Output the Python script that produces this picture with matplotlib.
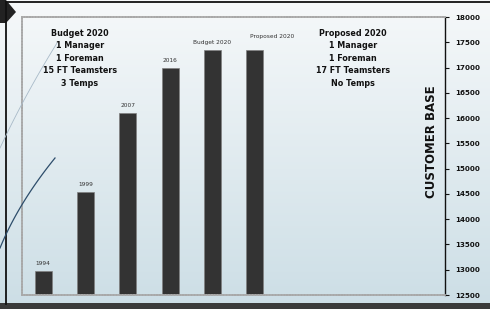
import numpy as np
import matplotlib.pyplot as plt
from matplotlib.lines import Line2D
from matplotlib.patches import Polygon, Rectangle

# data
years = ['1994', '1999', '2007', '2016', 'Budget 2020', 'Proposed 2020']
customers = [12980, 14540, 16100, 17000, 17350, 17350]
y_ticks = np.arange(12500, 18001, 500)

budget_lines = ['Budget 2020', '1 Manager', '1 Foreman', '15 FT Teamsters', '3 Temps']
proposed_lines = ['Proposed 2020', '1 Manager', '1 Foreman', '17 FT Teamsters', 'No Temps']

plt.rcParams['font.family'] = ['DejaVu Sans']

W, H = 490, 309
fig = plt.figure(figsize=(W / 100, H / 100), dpi=100)

# slide background gradient
bg = fig.add_axes([0, 0, 1, 1], zorder=-10)
grad = np.linspace(0, 1, 256)[:, None]
top_c = np.array([0.965, 0.975, 0.98])
bot_c = np.array([0.80, 0.87, 0.90])
img = top_c[None, None, :] * (1 - grad[..., None]) + bot_c[None, None, :] * grad[..., None]
bg.imshow(img, aspect='auto', extent=[0, 1, 0, 1], origin='upper')
bg.set_xlim(0, 1)
bg.set_ylim(0, 1)
bg.axis('off')

def fx(px):
    return px / W

def fy(py):
    return 1 - py / H

# slide frame
fig.add_artist(Polygon([[0, fy(0)], [fx(6), fy(0)], [fx(16), fy(12)], [fx(6), fy(23)], [0, fy(23)]],
                       closed=True, color='#222222', lw=0))
fig.add_artist(Line2D([fx(6), fx(6)], [fy(2), fy(304)], color='#111111', lw=1.3))
fig.add_artist(Line2D([fx(6), 1], [fy(2), fy(2)], color='#111111', lw=1.3))
fig.add_artist(Rectangle((0, 0), 1, fy(303), color='#3a3a3a', lw=0))

# decorative curves
t = np.linspace(0, 1, 50)
fig.add_artist(Line2D(fx(57 - 57 * t - 8 * t * (1 - t)), fy(43 + 105 * t),
                      color='#a8bac8', lw=0.6))
fig.add_artist(Line2D(fx(55 - 55 * t - 18 * t * (1 - t)), fy(158 + 90 * t),
                      color='#2d4d6b', lw=0.9))

# chart
ax = fig.add_axes([fx(22), fy(295), fx(445) - fx(22), fy(17) - fy(295)])
ax.patch.set_alpha(0)
x = np.arange(len(years))
ax.bar(x, customers, width=0.4, color='#333333', edgecolor='#808080', linewidth=0.5)
label_dx = [0, 0, 0, 0, 0, 0.42]
label_dy = [90, 90, 90, 90, 90, 210]
for xi, v, lab, dx, dy in zip(x, customers, years, label_dx, label_dy):
    ax.text(xi + dx, v + dy, lab, ha='center', va='bottom', fontsize=4.2, color='#333333')

ax.set_xlim(-0.5, 9.5)
ax.set_ylim(12500, 18000)
ax.set_yticks(y_ticks)
ax.yaxis.tick_right()
ax.tick_params(axis='y', direction='out', length=3, width=0.8, labelsize=5.1, pad=4, colors='#111111')
for lbl in ax.get_yticklabels():
    lbl.set_fontweight('bold')
ax.set_xticks([])

for side in ['top', 'left', 'bottom']:
    ax.spines[side].set_linestyle((0, (0.8, 0.8)))
    ax.spines[side].set_color('#a8a8a8')
    ax.spines[side].set_linewidth(1.3)
ax.spines['right'].set_color('#111111')
ax.spines['right'].set_linewidth(1.0)

ax.text(0.969, 0.55, 'CUSTOMER BASE', transform=ax.transAxes, rotation=90,
        ha='center', va='center', fontsize=8.5, fontweight='bold', color='#111111')

for i, line in enumerate(budget_lines):
    fig.text(fx(80), fy(33 + 12.6 * i), line, ha='center', va='center',
             fontsize=5.8, fontweight='bold', color='#111111')
for i, line in enumerate(proposed_lines):
    fig.text(fx(353), fy(33 + 12.6 * i), line, ha='center', va='center',
             fontsize=5.8, fontweight='bold', color='#111111')

fig.savefig('out.png', dpi=100)
